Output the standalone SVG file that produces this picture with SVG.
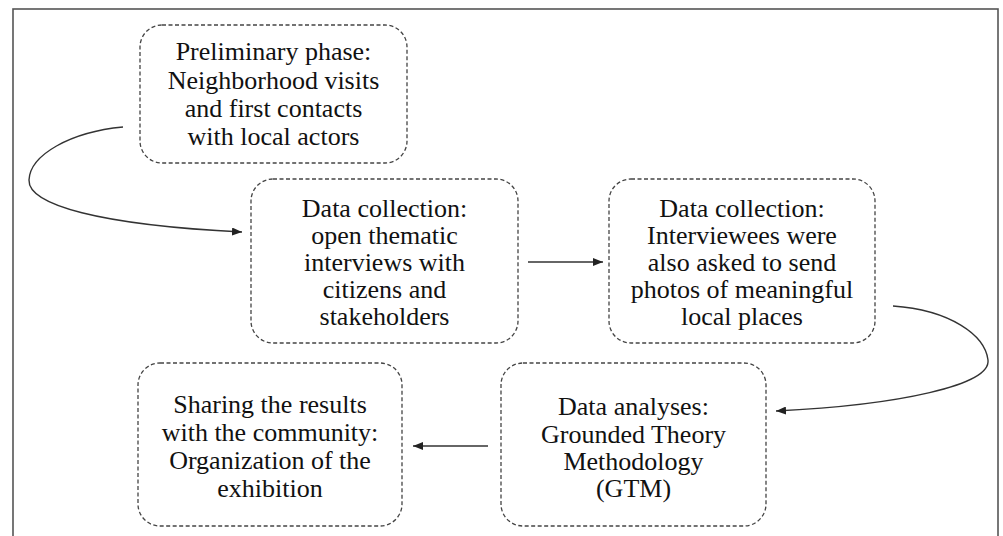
<svg xmlns="http://www.w3.org/2000/svg" width="1003" height="536" viewBox="0 0 1003 536">
<defs>
<style>
.frame{fill:none;stroke:#555;stroke-width:1.6}
.node{fill:#fff;stroke:#444;stroke-width:1.3;stroke-dasharray:4 2.5}
.lbl{font-family:"Liberation Serif","Times New Roman",serif;font-size:26px;fill:#111;text-anchor:middle}
.conn{fill:none;stroke:#333;stroke-width:1.4}
</style>
<marker id="ah" viewBox="0 0 10 8" refX="10" refY="4" markerWidth="10" markerHeight="8" markerUnits="userSpaceOnUse" orient="auto">
<path d="M0,0 L10,4 L0,8 Z" fill="#222"/>
</marker>
</defs>
<rect width="1003" height="536" fill="#fff"/>
<rect class="frame" x="13" y="9" width="985" height="540"/>
<g id="n1">
<rect class="node" x="140" y="25" width="267" height="138" rx="22"/>
<text class="lbl"><tspan x="273.5" y="60">Preliminary phase:</tspan><tspan x="273.5" y="88.5">Neighborhood visits</tspan><tspan x="273.5" y="117">and first contacts</tspan><tspan x="273.5" y="145">with local actors</tspan></text>
</g>
<g id="n2">
<rect class="node" x="251" y="179" width="267" height="164" rx="22"/>
<text class="lbl"><tspan x="384.5" y="217">Data collection:</tspan><tspan x="384.5" y="244">open thematic</tspan><tspan x="384.5" y="271">interviews with</tspan><tspan x="384.5" y="298">citizens and</tspan><tspan x="384.5" y="325">stakeholders</tspan></text>
</g>
<g id="n3">
<rect class="node" x="609" y="179" width="266" height="164" rx="22"/>
<text class="lbl"><tspan x="742" y="217">Data collection:</tspan><tspan x="742" y="244">Interviewees were</tspan><tspan x="742" y="271">also asked to send</tspan><tspan x="742" y="298">photos of meaningful</tspan><tspan x="742" y="325">local places</tspan></text>
</g>
<g id="n4">
<rect class="node" x="501" y="363" width="265" height="163" rx="22"/>
<text class="lbl"><tspan x="633.5" y="415">Data analyses:</tspan><tspan x="633.5" y="442.5">Grounded Theory</tspan><tspan x="633.5" y="470">Methodology</tspan><tspan x="633.5" y="497">(GTM)</tspan></text>
</g>
<g id="n5">
<rect class="node" x="138" y="363" width="264" height="163" rx="22"/>
<text class="lbl"><tspan x="270" y="413">Sharing the results</tspan><tspan x="270" y="441">with the community:</tspan><tspan x="270" y="469">Organization of the</tspan><tspan x="270" y="497">exhibition</tspan></text>
</g>
<g id="connectors">
<path class="conn" d="M123,127 C70,132 30,155 29,180 C28,205 100,225 242,232" marker-end="url(#ah)"/>
<path class="conn" d="M528,262 L603,262" marker-end="url(#ah)"/>
<path class="conn" d="M893,306 C950,310 985,335 988,360 C991,385 900,405 776,411" marker-end="url(#ah)"/>
<path class="conn" d="M488,446 L413,446" marker-end="url(#ah)"/>
</g>
</svg>
